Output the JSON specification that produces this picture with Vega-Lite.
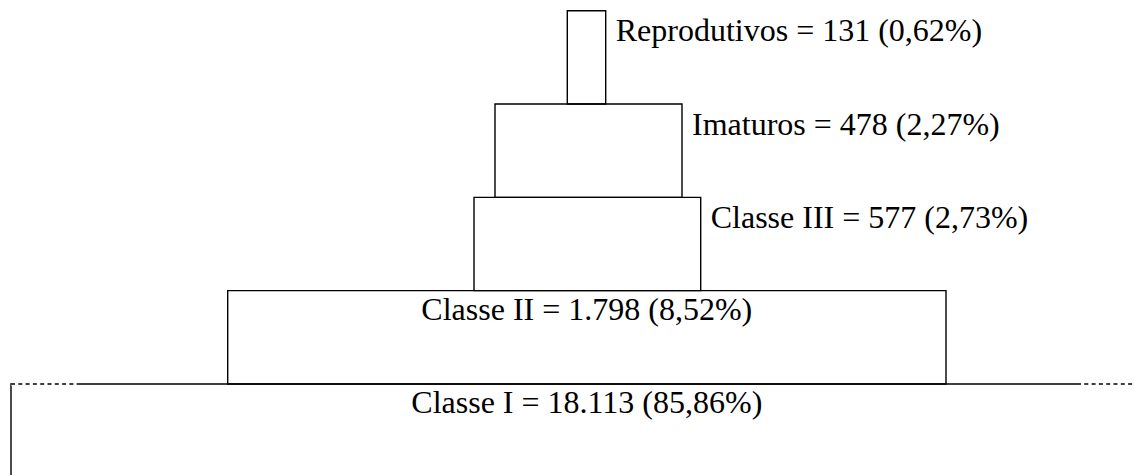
{
  "$schema": "https://vega.github.io/schema/vega-lite/v6.json",
  "width": 1134,
  "height": 475,
  "autosize": "none",
  "padding": 0,
  "background": "white",
  "config": {"view": {"stroke": null}},
  "datasets": {
    "classes": [
      {"classe": "Classe I", "n": 18113, "pct": "85,86%", "rotulo": "Classe I = 18.113 (85,86%)", "esq": -575.8, "dir": 575.2, "pos": "centro"},
      {"classe": "Classe II", "n": 1798, "pct": "8,52%", "rotulo": "Classe II = 1.798 (8,52%)", "esq": -359.1, "dir": 359.2, "pos": "centro"},
      {"classe": "Classe III", "n": 577, "pct": "2,73%", "rotulo": "Classe III = 577 (2,73%)", "esq": -112.8, "dir": 113.9, "pos": "lado"},
      {"classe": "Imaturos", "n": 478, "pct": "2,27%", "rotulo": "Imaturos = 478 (2,27%)", "esq": -91.8, "dir": 95.2, "pos": "lado"},
      {"classe": "Reprodutivos", "n": 131, "pct": "0,62%", "rotulo": "Reprodutivos = 131 (0,62%)", "esq": -19.5, "dir": 18.9, "pos": "lado"}
    ],
    "base": [
      {"classe": "Classe I", "de": -575.8, "ate": -510.1},
      {"classe": "Classe I", "de": 490.2, "ate": 547.2}
    ]
  },
  "data": {"name": "classes"},
  "encoding": {
    "y": {
      "field": "classe",
      "type": "nominal",
      "scale": {
        "type": "band",
        "domain": ["Reprodutivos", "Imaturos", "Classe III", "Classe II", "Classe I"],
        "range": [10.7, 477.3],
        "paddingInner": 0,
        "paddingOuter": 0
      },
      "axis": null
    }
  },
  "layer": [
    {
      "mark": {"type": "rect", "fill": "transparent", "stroke": "black", "strokeWidth": 1.4},
      "encoding": {
        "x": {"field": "esq", "type": "quantitative", "scale": {"domain": [-586.8, 547.2], "range": [0, 1134], "nice": false, "zero": false}, "axis": null},
        "x2": {"field": "dir"}
      }
    },
    {
      "data": {"name": "base"},
      "mark": {"type": "rule", "stroke": "white", "strokeWidth": 3},
      "encoding": {
        "x": {"field": "de", "type": "quantitative"},
        "x2": {"field": "ate"},
        "y": {"field": "classe", "type": "nominal", "bandPosition": 0}
      }
    },
    {
      "data": {"name": "base"},
      "mark": {"type": "rule", "stroke": "black", "strokeWidth": 1.4, "strokeDash": [4, 3.3]},
      "encoding": {
        "x": {"field": "de", "type": "quantitative"},
        "x2": {"field": "ate"},
        "y": {"field": "classe", "type": "nominal", "bandPosition": 0}
      }
    },
    {
      "transform": [{"filter": "datum.pos == 'lado'"}],
      "mark": {"type": "text", "align": "left", "baseline": "alphabetic", "dx": 10, "dy": 30.5, "font": "Liberation Serif", "fontSize": 32, "color": "black"},
      "encoding": {
        "x": {"field": "dir", "type": "quantitative"},
        "y": {"field": "classe", "type": "nominal", "bandPosition": 0},
        "text": {"field": "rotulo"}
      }
    },
    {
      "transform": [{"filter": "datum.pos == 'centro'"}],
      "mark": {"type": "text", "align": "center", "baseline": "alphabetic", "dy": 29.5, "font": "Liberation Serif", "fontSize": 32, "color": "black"},
      "encoding": {
        "x": {"datum": 0, "type": "quantitative"},
        "y": {"field": "classe", "type": "nominal", "bandPosition": 0},
        "text": {"field": "rotulo"}
      }
    }
  ]
}
